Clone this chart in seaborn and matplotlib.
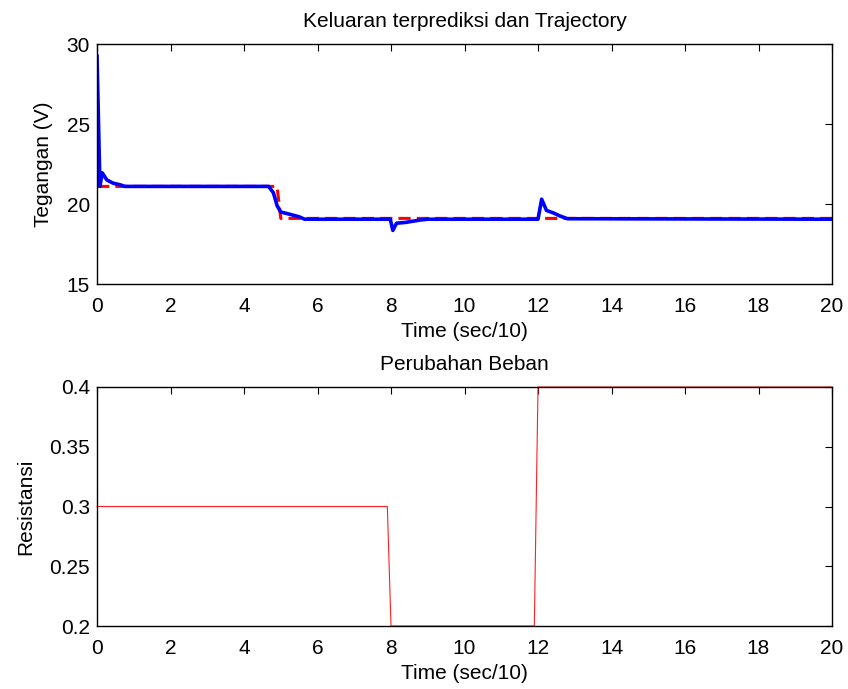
import matplotlib
matplotlib.use("Agg")
import matplotlib.pyplot as plt
import seaborn as sns
import numpy as np

# ---- data ----
# Top: predicted output (blue) and trajectory (red dashed)
out_t = [0.0, 0.08, 0.14, 0.27, 0.44, 0.63, 0.76, 4.67, 4.8, 4.9, 5.0, 5.26, 5.5, 5.65,
         7.98, 8.05, 8.15, 8.4, 8.8, 9.0, 12.0, 12.1, 12.23, 12.42, 12.6, 12.8, 20.0]
out_v = [29.3, 21.1, 21.95, 21.5, 21.3, 21.2, 21.1, 21.1, 20.7, 19.9, 19.5, 19.35, 19.2, 19.05,
         19.05, 18.35, 18.8, 18.85, 19.0, 19.05, 19.05, 20.3, 19.6, 19.44, 19.25, 19.08, 19.05]
traj_t = [0.0, 4.9, 5.0, 20.0]
traj_v = [21.1, 21.1, 19.1, 19.1]

# Bottom: load change
load_t = [0.0, 7.9, 8.0, 11.9, 12.0, 20.0]
load_v = [0.3, 0.3, 0.2, 0.2, 0.4, 0.4]

x_ticks = list(range(0, 21, 2))
top_yticks = [15, 20, 25, 30]
bot_yticks = [0.2, 0.25, 0.3, 0.35, 0.4]
bot_ylabels = ["0.2", "0.25", "0.3", "0.35", "0.4"]

sns.set_style("white")
plt.rcParams['font.family'] = ['Liberation Sans', 'DejaVu Sans']
plt.rcParams['text.color'] = 'black'
plt.rcParams['axes.labelcolor'] = 'black'
FS = 15

W, H = 848, 689
fig = plt.figure(figsize=(W / 100, H / 100), dpi=100)
ax1 = fig.add_axes([97 / W, 1 - 284 / H, 735 / W, 240 / H])
ax2 = fig.add_axes([97 / W, 1 - 626 / H, 735 / W, 239 / H])

sns.lineplot(x=traj_t, y=traj_v, ax=ax1, color="#ff0000", linewidth=2.2,
             linestyle=(0, (4, 2)), estimator=None, sort=False)
sns.lineplot(x=out_t, y=out_v, ax=ax1, color="#0000ff", linewidth=2.6,
             estimator=None, sort=False)
sns.lineplot(x=load_t, y=load_v, ax=ax2, color="#ff2020", linewidth=0.8,
             estimator=None, sort=False)
for ln in ax2.lines:
    ln.set_clip_on(False)

ax1.set_xlim(0, 20)
ax1.set_ylim(15, 30)
ax1.set_yticks(top_yticks)
ax2.set_xlim(0, 20)
ax2.set_ylim(0.2, 0.4)
ax2.set_yticks(bot_yticks)
ax2.set_yticklabels(bot_ylabels)

for ax in (ax1, ax2):
    ax.set_xticks(x_ticks)
    ax.tick_params(direction="in", length=5, width=0.8, top=True, right=True,
                   labelsize=FS, colors="black")
    ax.tick_params(axis="x", pad=9)
    ax.tick_params(axis="y", pad=5)
    for s in ax.spines.values():
        s.set_color("black")
        s.set_linewidth(1.0)
    ax.set_xlabel("Time (sec/10)", fontsize=FS, labelpad=5, color="black")

ax1.set_ylabel("Tegangan (V)", fontsize=FS, labelpad=10, color="black")
ax2.set_ylabel("Resistansi", fontsize=FS, labelpad=10, color="black")
ax1.set_title("Keluaran terprediksi dan Trajectory", fontsize=FS, pad=12, color="black")
ax2.set_title("Perubahan Beban", fontsize=FS, pad=12, color="black")

fig.savefig("out.png", dpi=100, facecolor="white")
